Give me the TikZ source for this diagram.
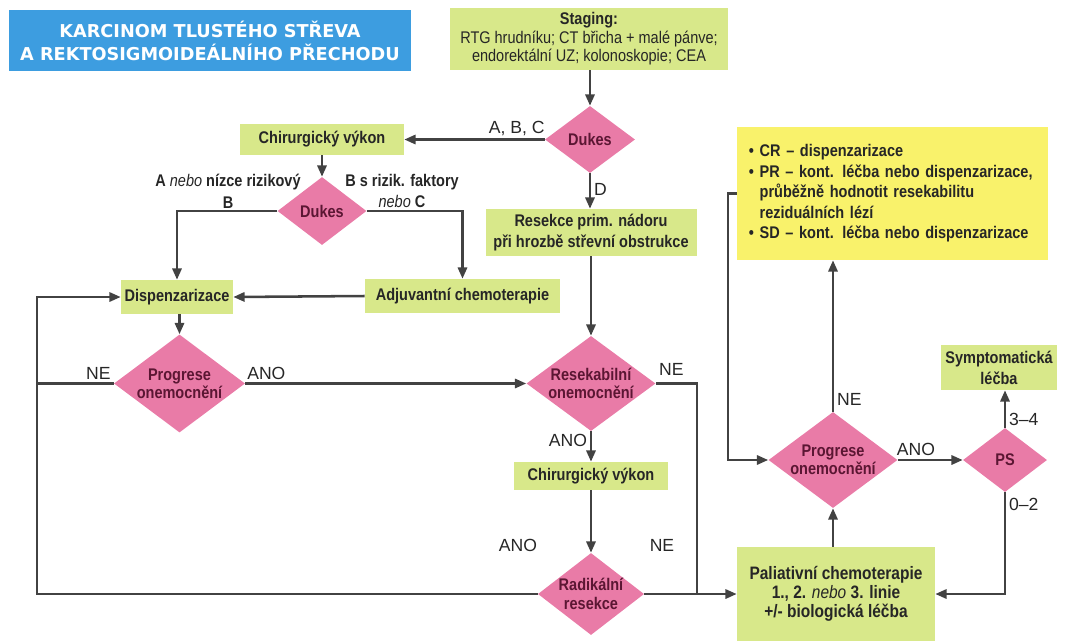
\documentclass[tikz,border=0pt]{standalone}
\usepackage{fontspec}
\setmainfont{Liberation Sans}[FakeStretch=0.86]
\newfontfamily\lblfont{Liberation Sans}
\newfontfamily\titlefont{DejaVu Sans}
\usepackage{xcolor}
\usepackage{tikz}
\usetikzlibrary{arrows.meta, shapes.geometric}
\definecolor{kgreen}{HTML}{D8E88A}
\definecolor{kpink}{HTML}{E97BA7}
\definecolor{kyellow}{HTML}{F9F26B}
\definecolor{kblue}{HTML}{3D9DE0}
\definecolor{kline}{HTML}{424242}
\definecolor{kwine}{HTML}{5B1633}
\definecolor{ktext}{HTML}{262626}

\begin{document}
\begin{tikzpicture}[x=0.025cm, y=-0.025cm,
  wh/.style 2 args={minimum width=#1*0.025cm, minimum height=#2*0.025cm},
  gbox/.style={fill=kgreen, text=ktext, inner sep=0pt, align=center, font=\fontsize{12}{15}\selectfont\bfseries},
  dia/.style={shape=diamond, aspect=1.35, fill=kpink, text=kwine, inner sep=0pt, align=center, font=\fontsize{12}{13}\selectfont\bfseries},
  lbl/.style={text=ktext, inner sep=2pt, font=\lblfont\fontsize{12.5}{14}\selectfont},
  cond/.style={text=ktext, inner sep=0pt, align=center, font=\fontsize{12}{15.5}\selectfont\bfseries},
  arr/.style={draw=kline, line width=1.8pt, -{Triangle[length=8pt, width=6.5pt]}},
  con/.style={draw=kline, line width=1.8pt}]
\useasboundingbox (0,0) rectangle (1065,640);
\node[fill=kblue, text=white, wh={402}{61}, align=center, inner sep=0pt,
  font=\titlefont\bfseries\fontsize{12.6}{16.4}\selectfont] (title) at (210,40.5)
  {KARCINOM TLUSTÉHO STŘEVA\\A REKTOSIGMOIDEÁLNÍHO PŘECHODU};
\node[gbox, wh={278}{62}, font=\fontsize{12}{13.2}\selectfont] (staging) at (589,39)
  {\textbf{Staging:}\\RTG hrudníku; CT břicha + malé pánve;\\endorektální UZ; kolonoskopie; CEA};
\node[dia, wh={90}{67}] (dukesA) at (590,139.5) {Dukes};
\node[gbox, wh={164}{31}] (chirA) at (322,139.5) {Chirurgický výkon};
\node[dia, wh={89}{68}] (dukesB) at (322,211) {Dukes};
\node[gbox, wh={211}{47}] (resekce) at (591,232.5) {Resekce prim. nádoru\\při hrozbě střevní obstrukce};
\node[gbox, wh={112}{34}] (dispenz) at (177,297) {Dispenzarizace};
\node[gbox, wh={195}{34}] (adjuv) at (462.5,296) {Adjuvantní chemoterapie};
\node[dia, wh={131}{98}] (progA) at (179.5,383.5) {Progrese\\onemocnění};
\node[dia, wh={129}{95}] (resek) at (591,383.5) {Resekabilní\\onemocnění};
\node[gbox, wh={154}{28}] (chirB) at (591,476) {Chirurgický výkon};
\node[dia, wh={104}{82}] (radik) at (591,594) {Radikální\\resekce};
\node[gbox, wh={198}{94}, font=\fontsize{12.8}{13.6}\selectfont\bfseries] (paliat) at (836,594)
  {Paliativní chemoterapie\\1., 2. \textit{\mdseries nebo} 3. linie\\+/- biologická léčba};
\node[fill=kyellow, text=ktext, text width=7.175cm, inner xsep=0.3cm, inner ysep=0pt,
  minimum height=3.325cm, align=left, font=\fontsize{12}{14.6}\selectfont\bfseries] (resp) at (892.5,193.5)
  {• CR – dispenzarizace\\• PR – kont. léčba nebo dispenzarizace,\\\phantom{• }průběžně hodnotit resekabilitu\\\phantom{• }reziduálních lézí\\• SD – kont. léčba nebo dispenzarizace};
\node[dia, wh={129}{96}] (progB) at (833,460) {Progrese\\onemocnění};
\node[dia, wh={84}{64}] (ps) at (1005,460) {PS};
\node[gbox, wh={116}{45}] (sympt) at (999,367.5) {Symptomatická\\léčba};
\node[cond] (lblleft) at (228,191) {A \textit{\mdseries nebo} nízce rizikový\\B};
\node[cond] (lblright) at (402,191) {B s rizik. faktory\\\textit{\mdseries nebo} C};
\coordinate (loopL) at (37,594);
\coordinate (joinR) at (697,594);
\coordinate (loopR) at (728,196);
\draw[arr] (staging.south -| dukesA.north) -- (dukesA.north);
\draw[arr] (dukesA.west) -- node[lbl, above, pos=0.2] (lblabc) {A, B, C} (chirA.east);
\draw[arr] (dukesA.south) -- node[lbl, right, pos=0.45] (lbld) {D} (resekce.north -| dukesA.south);
\draw[arr] (chirA.south) -- (dukesB.north);
\draw[arr] (dukesB.west) -| (dispenz.north);
\draw[arr] (dukesB.east) -| (adjuv.north);
\draw[arr] (adjuv.west) -- (dispenz.east);
\draw[arr] (progA.north |- dispenz.south) -- (progA.north);
\draw[arr] (progA.east) -- node[lbl, above, pos=0.075] (lblanoA) {ANO} (resek.west);
\draw[arr] (radik.west) -- (loopL) |- (dispenz.west);
\draw[con] (progA.west) -- node[lbl, above, pos=0.2] (lblneA) {NE} (progA.west -| loopL);
\draw[arr] (resekce.south) -- (resek.north);
\draw[con] (resek.east) -| node[lbl, above, pos=0.19, inner sep=5pt] (lblneB) {NE} (joinR);
\draw[arr] (resek.south) -- node[lbl, left, pos=0.3] (lblanoB) {ANO} (chirB.north);
\draw[arr] (chirB.south) -- (radik.north);
\draw[arr] (radik.east) -- (paliat.west);
\node[lbl] (lblanoC) at (518,545) {ANO};
\node[lbl] (lblneC) at (662,545) {NE};
\draw[arr] (progB.south |- paliat.north) -- (progB.south);
\draw[arr] (progB.north) -- node[lbl, right, pos=0.08] (lblneD) {NE} (progB.north |- resp.south);
\draw[arr] (resp.west) -| (loopR) |- (progB.west);
\draw[arr] (progB.east) -- node[lbl, above, pos=0.28] (lblanoD) {ANO} (ps.west);
\draw[arr] (ps.north) -- node[lbl, right, pos=0.22] (lblsym) {3–4} (ps.north |- sympt.south);
\draw[arr] (ps.south) |- node[lbl, right, pos=0.06] (lblpal) {0–2} (paliat.east);
\end{tikzpicture}
\end{document}
